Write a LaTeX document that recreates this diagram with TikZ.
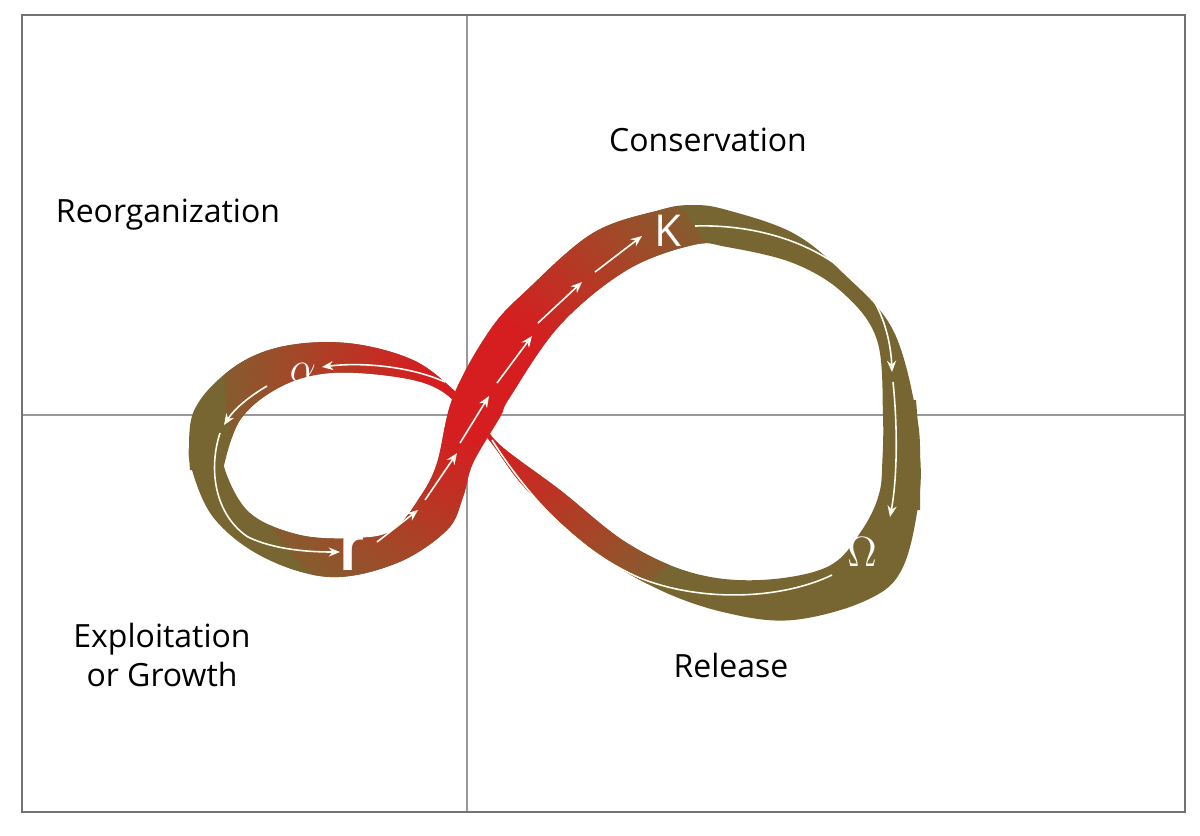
\documentclass[tikz,border=0pt]{standalone}
\usepackage{fontspec}
\setmainfont{Open Sans}
\usetikzlibrary{arrows.meta}
\definecolor{rred}{RGB}{214,30,32}
\definecolor{rbrown}{RGB}{165,70,40}
\definecolor{rolive}{RGB}{120,102,50}
\pgfdeclareradialshading{ribbon}{\pgfpoint{0bp}{0bp}}{color(0bp)=(rred); color(6bp)=(rred); color(18bp)=(rbrown); color(28bp)=(rolive); color(50bp)=(rolive)}
\tikzset{
  lab/.style={font=\fontsize{9.1}{11}\selectfont, align=center, text=black},
  flow/.style={draw=white!95!yellow, line width=0.45pt, -{Stealth[length=3.2pt,width=2.6pt]}},
  flowline/.style={draw=white!95!yellow, line width=0.45pt},
  sym/.style={text=white, inner sep=0pt},
}
\begin{document}
\begin{tikzpicture}[x=0.01cm,y=-0.01cm]
\useasboundingbox (0,0) rectangle (1200,835);
\fill[white] (0,0) rectangle (1200,835);
\draw[gray!80, line width=0.4pt] (467,15) -- (467,812);
\draw[gray!80, line width=0.4pt] (22,415) -- (1185,415);
\draw[gray!90!black, line width=0.6pt] (22,15) rectangle (1185,812);

% lower layer: alpha band + thin return band + bottom/right of right loop
\begin{scope}
\clip plot[smooth, tension=0.6] coordinates {(190,470) (193,413) (230,370) (280,347) (347,343) (413,360) (457,393) (480,418)
  (500,445) (560,490) (627,543) (693,573) (760,580) (827,567) (860,533) (880,490) (884,430) (883,400)}
  --
  plot[smooth, tension=0.6] coordinates {(916,400) (918,430) (920,490) (903,567) (867,600) (793,620) (727,613) (660,590) (593,550) (527,490) (493,445) (472,420)
  (440,390) (397,377) (330,373) (280,387) (240,420) (223,470)} -- cycle;
\fill[rolive] (0,0) rectangle (1200,835);
\shade[shading=ribbon] (485,380) circle (2.6cm);
\end{scope}

% upper layer: left loop bottom + rising band + top/right of right loop
\begin{scope}
\clip plot[smooth, tension=0.6] coordinates {(191,440) (190,463) (213,517) (263,557) (330,577) (397,563) (447,530) (463,497) (473,463) (500,417) (510,397) (560,325) (627,270) (693,245) (727,247) (793,263) (843,293) (877,340) (883,417) (882,470) (880,510)}
  --
  plot[smooth, tension=0.6] coordinates {(920,510) (920,470) (917,417) (893,330) (843,273) (793,233) (727,210) (693,205) (660,210) (593,233) (527,290) (490,330) (453,397) (437,463) (420,497) (393,530) (357,538) (300,535) (250,513) (225,470) (224,440)} -- cycle;
\fill[rolive] (0,0) rectangle (1200,835);
\shade[shading=ribbon] (485,380) circle (2.6cm);
\end{scope}

% flow arrows
\coordinate (a0) at (445,382);
\draw[flow] (a0) .. controls (410,366) and (360,362) .. (322,367);
\draw[flow] (267,386) .. controls (250,396) and (235,408) .. (224,425);
\draw[flow] (220,433) .. controls (208,470) and (215,515) .. (248,537) .. controls (275,550) and (310,552) .. (340,552);
\draw[flow] (377,542) -- (418,510);
\draw[flow] (425,500) -- (457,453);
\draw[flow] (460,443) -- (489,396);
\draw[flow] (497,383) -- (532,336);
\draw[flow] (538,323) -- (582,282);
\draw[flow] (595,272) -- (642,236);
\draw[flow] (695,226) .. controls (760,224) and (830,245) .. (872,298) .. controls (885,318) and (891,345) .. (892,372);
\draw[flow] (893,382) .. controls (898,430) and (897,480) .. (890,517);
\draw[flowline] (832,575) .. controls (780,600) and (700,602) .. (640,578) .. controls (580,552) and (530,500) .. (492,440);

% symbols
\node[sym] (alpha) at (303,372) {\fontsize{13}{14}\selectfont$\alpha$};
\node[sym] (rsym) at (352,550) {\scalebox{1}[1.3]{\fontsize{16}{17}\selectfont\bfseries r}};
\node[sym] (ksym) at (668,231) {\fontsize{12.5}{14}\selectfont K};
\node[sym] (omega) at (862,552) {\fontsize{13}{14}\selectfont$\Omega$};

% labels
\node[lab] (cons) at (708,140) {Conservation};
\node[lab] (reorg) at (168,215) {Reorganization};
\node[lab] (expl) at (162,655) {Exploitation\\or Growth};
\node[lab] (rel) at (731,665) {Release};
\end{tikzpicture}
\end{document}
